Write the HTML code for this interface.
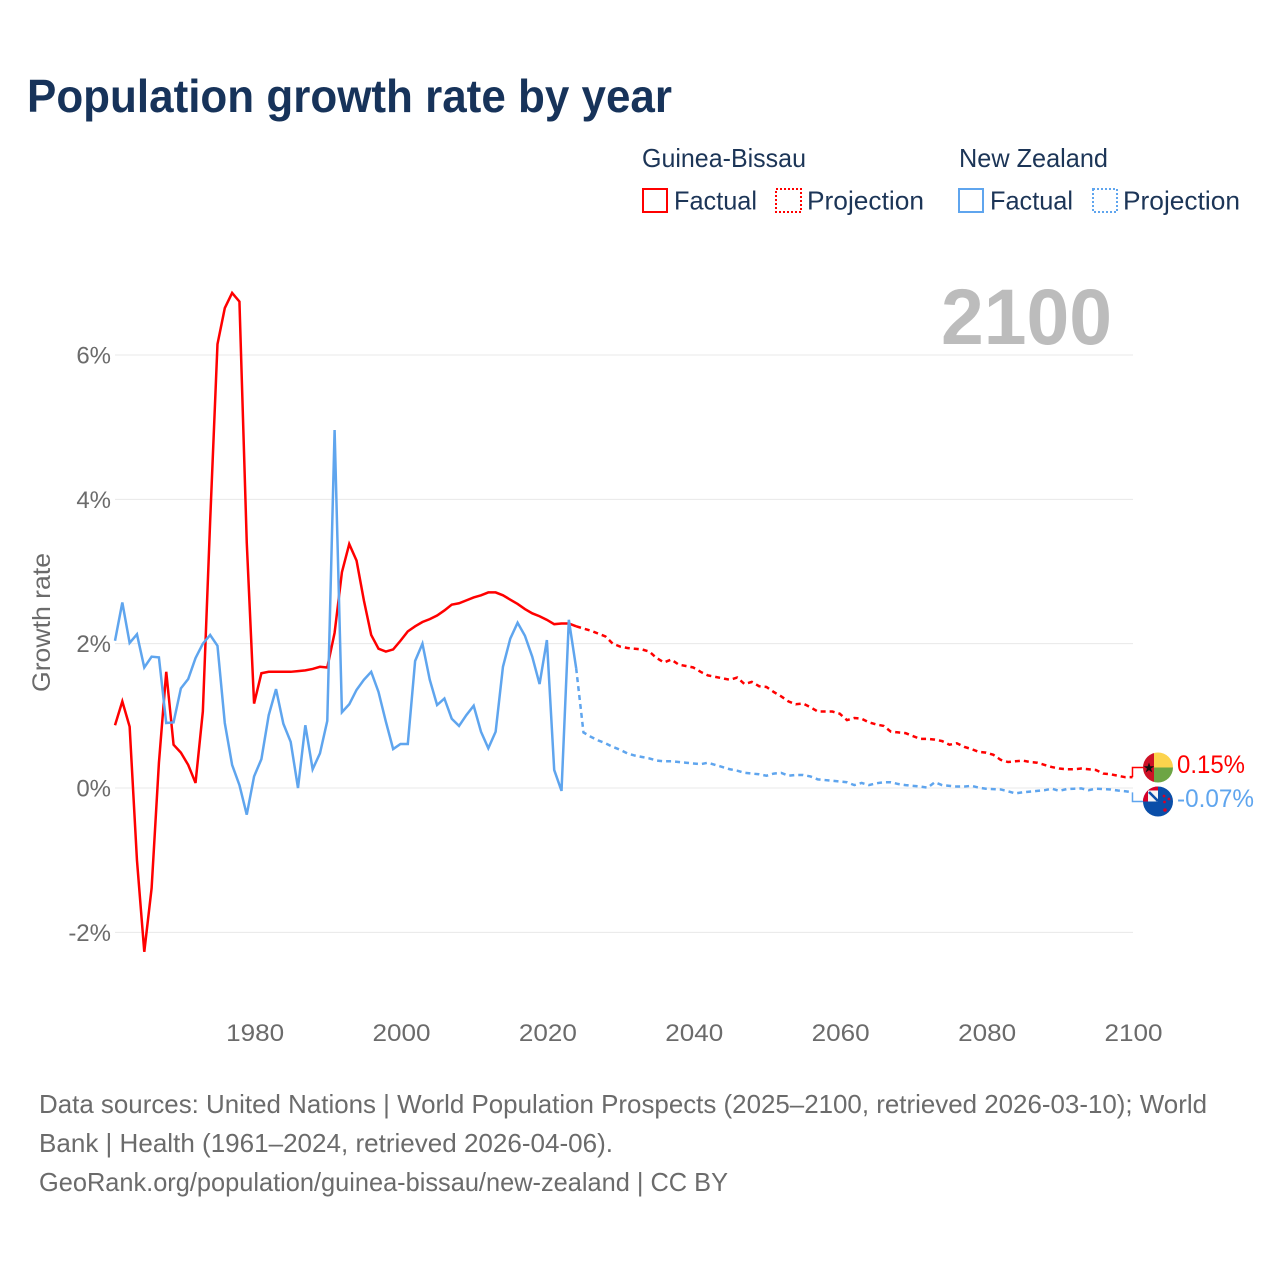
<!DOCTYPE html>
<html lang="en">
<head>
<meta charset="utf-8">
<title>Population growth rate by year</title>
<style>
html,body{margin:0;padding:0;background:#fff;}
svg{display:block;font-family:"Liberation Sans",sans-serif;}
</style>
</head>
<body>
<svg id="chart" xmlns="http://www.w3.org/2000/svg" width="1280" height="1280" viewBox="0 0 1280 1280">
  <defs>
    <clipPath id="clip-gw"><circle cx="1158" cy="767.5" r="15"/></clipPath>
    <clipPath id="clip-nz"><circle cx="1158" cy="801.5" r="15"/></clipPath>
  </defs>
  <rect x="0" y="0" width="1280" height="1280" fill="#fff"/>
  <text x="27" y="112" font-size="46" font-weight="700" fill="#17335a" textLength="645" lengthAdjust="spacingAndGlyphs">Population growth rate by year</text>

  <g font-size="26" fill="#1c3557">
    <text x="642" y="167" textLength="164" lengthAdjust="spacingAndGlyphs">Guinea-Bissau</text>
    <text x="959" y="167" textLength="149" lengthAdjust="spacingAndGlyphs">New Zealand</text>
    <rect x="643" y="189" width="24" height="23" fill="none" stroke="#ff0000" stroke-width="2"/>
    <text x="674" y="209.5" textLength="83" lengthAdjust="spacingAndGlyphs">Factual</text>
    <rect x="776" y="189" width="25" height="23" fill="none" stroke="#ff0000" stroke-width="2" stroke-dasharray="2 2"/>
    <text x="807" y="209.5" textLength="117" lengthAdjust="spacingAndGlyphs">Projection</text>
    <rect x="959" y="189" width="24" height="23" fill="none" stroke="#5fa5ee" stroke-width="2"/>
    <text x="990" y="209.5" textLength="83" lengthAdjust="spacingAndGlyphs">Factual</text>
    <rect x="1093" y="189" width="24" height="23" fill="none" stroke="#5fa5ee" stroke-width="2" stroke-dasharray="2 2"/>
    <text x="1123" y="209.5" textLength="117" lengthAdjust="spacingAndGlyphs">Projection</text>
  </g>

  <g id="grid"></g>
  <text x="1112" y="344" font-size="79" font-weight="700" fill="#bcbcbc" text-anchor="end" textLength="171" lengthAdjust="spacingAndGlyphs">2100</text>
  <g id="yticks"></g>
  <g id="xticks"></g>
  <text transform="translate(50,622.5) rotate(-90)" font-size="25" fill="#6b6b6b" text-anchor="middle" textLength="139" lengthAdjust="spacingAndGlyphs">Growth rate</text>

  <g id="series"></g>

  <g>
    <g clip-path="url(#clip-gw)">
      <rect x="1143" y="752" width="11" height="31" fill="#ce1126"/>
      <rect x="1154" y="752" width="19" height="15.5" fill="#fcd34d"/>
      <rect x="1154" y="767.5" width="19" height="15.5" fill="#6da544"/>
      <polygon points="1149,762.5 1150.3,766.3 1154.2,766.3 1151,768.6 1152.3,772.4 1149,770.1 1145.7,772.4 1147,768.6 1143.8,766.3 1147.7,766.3" fill="#111"/>
    </g>
    <text x="1177" y="773" font-size="25" fill="#ff0000" textLength="68" lengthAdjust="spacingAndGlyphs">0.15%</text>
  </g>
  <g>
    <g clip-path="url(#clip-nz)">
      <rect x="1143" y="786" width="31" height="31" fill="#0a4ea8"/>
      <rect x="1143" y="786" width="15" height="15.5" fill="#d80027"/>
      <rect x="1148" y="790.5" width="10" height="11" fill="#f4f4f4"/>
      <path d="M1149 792 L1158 801" stroke="#0a4ea8" stroke-width="2.6" fill="none"/>
      <circle cx="1164" cy="796" r="1.4" fill="#d80027"/>
      <circle cx="1169" cy="799" r="1.4" fill="#d80027"/>
      <circle cx="1164.5" cy="802" r="1.4" fill="#d80027"/>
      <circle cx="1165" cy="810" r="1.8" fill="#d80027"/>
    </g>
    <text x="1177" y="807" font-size="25" fill="#5fa5ee" textLength="77" lengthAdjust="spacingAndGlyphs">-0.07%</text>
  </g>

  <g font-size="26" fill="#6b6b6b">
    <text x="39" y="1113" textLength="1168" lengthAdjust="spacingAndGlyphs">Data sources: United Nations | World Population Prospects (2025–2100, retrieved 2026-03-10); World</text>
    <text x="39" y="1152" textLength="574" lengthAdjust="spacingAndGlyphs">Bank | Health (1961–2024, retrieved 2026-04-06).</text>
    <text x="39" y="1191" textLength="689" lengthAdjust="spacingAndGlyphs">GeoRank.org/population/guinea-bissau/new-zealand | CC BY</text>
  </g>
</svg>
<script>
const xTickYears = [1980, 2000, 2020, 2040, 2060, 2080, 2100];
const yTickValues = [6, 4, 2, 0, -2];
const yTickLabels = ["6%", "4%", "2%", "0%", "-2%"];
const factualStartYear = 1961;
const projectionStartYear = 2024;

const guineaBissauFactual = [
  0.87, 1.20, 0.85, -1.00, -2.27, -1.39, 0.35, 1.61, 0.60, 0.49,
  0.32, 0.07, 1.06, 3.70, 6.15, 6.65, 6.86, 6.74, 3.40, 1.17,
  1.59, 1.61, 1.61, 1.61, 1.61, 1.62, 1.63, 1.65, 1.68, 1.67,
  2.15, 2.99, 3.38, 3.15, 2.60, 2.12, 1.93, 1.89, 1.92, 2.04,
  2.17, 2.24, 2.30, 2.34, 2.39, 2.46, 2.54, 2.56, 2.60, 2.64,
  2.67, 2.71, 2.71, 2.67, 2.61, 2.55, 2.48, 2.42, 2.38, 2.33,
  2.27, 2.28, 2.28, 2.24
];
const newZealandFactual = [
  2.04, 2.57, 2.01, 2.13, 1.67, 1.82, 1.81, 0.90, 0.91, 1.38,
  1.51, 1.80, 2.00, 2.12, 1.97, 0.90, 0.32, 0.04, -0.37, 0.16,
  0.40, 1.01, 1.37, 0.89, 0.64, 0.00, 0.87, 0.26, 0.48, 0.93,
  4.96, 1.05, 1.16, 1.36, 1.50, 1.61, 1.33, 0.92, 0.54, 0.61,
  0.61, 1.76, 2.00, 1.50, 1.15, 1.24, 0.96, 0.86, 1.01, 1.14,
  0.78, 0.55, 0.78, 1.68, 2.07, 2.29, 2.11, 1.82, 1.44, 2.05,
  0.25, -0.04, 2.33, 1.66
];
const guineaBissauProjection = [
  2.24, 2.21, 2.18, 2.14, 2.10, 2.00, 1.96, 1.94, 1.93, 1.92,
  1.89, 1.80, 1.74, 1.78, 1.71, 1.69, 1.67, 1.61, 1.56, 1.54,
  1.52, 1.50, 1.53, 1.44, 1.47, 1.41, 1.40, 1.33, 1.27, 1.20,
  1.16, 1.17, 1.12, 1.06, 1.06, 1.06, 1.03, 0.94, 0.97, 0.96,
  0.91, 0.88, 0.86, 0.78, 0.77, 0.76, 0.72, 0.68, 0.68, 0.67,
  0.65, 0.60, 0.62, 0.57, 0.54, 0.50, 0.49, 0.46, 0.39, 0.36,
  0.37, 0.38, 0.36, 0.35, 0.32, 0.29, 0.27, 0.26, 0.26, 0.27,
  0.26, 0.25, 0.20, 0.19, 0.17, 0.15, 0.15
];
const newZealandProjection = [
  1.66, 0.77, 0.71, 0.66, 0.62, 0.57, 0.53, 0.48, 0.45, 0.43,
  0.41, 0.38, 0.37, 0.37, 0.36, 0.35, 0.34, 0.33, 0.35, 0.32,
  0.29, 0.26, 0.24, 0.21, 0.20, 0.19, 0.17, 0.20, 0.21, 0.17,
  0.18, 0.18, 0.16, 0.12, 0.11, 0.10, 0.09, 0.08, 0.04, 0.07,
  0.04, 0.065, 0.08, 0.08, 0.055, 0.04, 0.03, 0.02, 0.005, 0.08,
  0.04, 0.03, 0.02, 0.02, 0.03, 0.005, -0.01, -0.015, -0.02, -0.045,
  -0.075, -0.06, -0.05, -0.04, -0.03, -0.01, -0.04, -0.015, -0.01, -0.005,
  -0.03, -0.01, -0.015, -0.02, -0.035, -0.045, -0.06
];

const SVG_NS = "http://www.w3.org/2000/svg";
const RED = "#ff0000";
const BLUE = "#5fa5ee";
const PLOT_LEFT = 115;
const PLOT_RIGHT = 1133;

function xScale(year) {
  return 115 + (year - 1961) * 7.32;
}
function yScale(value) {
  return 788 - value * 72.17;
}
function linePath(values, startYear) {
  return values.map(function (v, i) {
    return (i === 0 ? "M" : "L") + xScale(startYear + i).toFixed(2) + " " + yScale(v).toFixed(2);
  }).join(" ");
}

const grid = document.getElementById("grid");
const yticks = document.getElementById("yticks");
const xticks = document.getElementById("xticks");
const seriesLayer = document.getElementById("series");

yTickValues.forEach(function (v, i) {
  const line = document.createElementNS(SVG_NS, "line");
  
  
  line.setAttribute("x1", PLOT_LEFT);
  line.setAttribute("x2", PLOT_RIGHT);
  line.setAttribute("y1", yScale(v));
  line.setAttribute("y2", yScale(v));
  line.setAttribute("stroke", "#e8e8e8");
  line.setAttribute("stroke-width", "1");
  grid.appendChild(line);

  const label = document.createElementNS(SVG_NS, "text");
  
  
  label.setAttribute("x", 111);
  label.setAttribute("y", yScale(v) + 8.5);
  label.setAttribute("text-anchor", "end");
  label.setAttribute("font-size", "24");
  label.setAttribute("fill", "#6b6b6b");
  label.textContent = yTickLabels[i];
  yticks.appendChild(label);
});

xTickYears.forEach(function (year) {
  const label = document.createElementNS(SVG_NS, "text");
  
  
  label.setAttribute("x", xScale(year) + 1);
  label.setAttribute("y", 1041);
  label.setAttribute("text-anchor", "middle");
  label.setAttribute("font-size", "24.5");
  label.setAttribute("textLength", "58");
  label.setAttribute("lengthAdjust", "spacingAndGlyphs");
  label.setAttribute("fill", "#6b6b6b");
  label.textContent = String(year);
  xticks.appendChild(label);
});

function addConnector(lastValue, flagY, color) {
  const endX = xScale(2100);
  const path = document.createElementNS(SVG_NS, "path");
  
  
  path.setAttribute("d", "M" + endX + " " + yScale(lastValue) + " L" + endX + " " + flagY + " L1143 " + flagY);
  path.setAttribute("fill", "none");
  path.setAttribute("stroke", color);
  path.setAttribute("stroke-width", "1.5");
  seriesLayer.appendChild(path);
}

function addLine(values, startYear, color, dashed, name) {
  const path = document.createElementNS(SVG_NS, "path");
  
  
  path.setAttribute("d", linePath(values, startYear));
  path.setAttribute("fill", "none");
  path.setAttribute("stroke", color);
  path.setAttribute("stroke-width", "2.5");
  path.setAttribute("stroke-linejoin", "miter");
  if (dashed) {
    path.setAttribute("stroke-dasharray", "5 4");
  }
  seriesLayer.appendChild(path);
}

addConnector(guineaBissauProjection[guineaBissauProjection.length - 1], 767.5, RED);
addConnector(newZealandProjection[newZealandProjection.length - 1], 801.5, BLUE);
addLine(guineaBissauProjection, projectionStartYear, RED, true, "guinea-bissau-projection-line");
addLine(guineaBissauFactual, factualStartYear, RED, false, "guinea-bissau-factual-line");
addLine(newZealandProjection, projectionStartYear, BLUE, true, "new-zealand-projection-line");
addLine(newZealandFactual, factualStartYear, BLUE, false, "new-zealand-factual-line");
</script>
</body>
</html>
